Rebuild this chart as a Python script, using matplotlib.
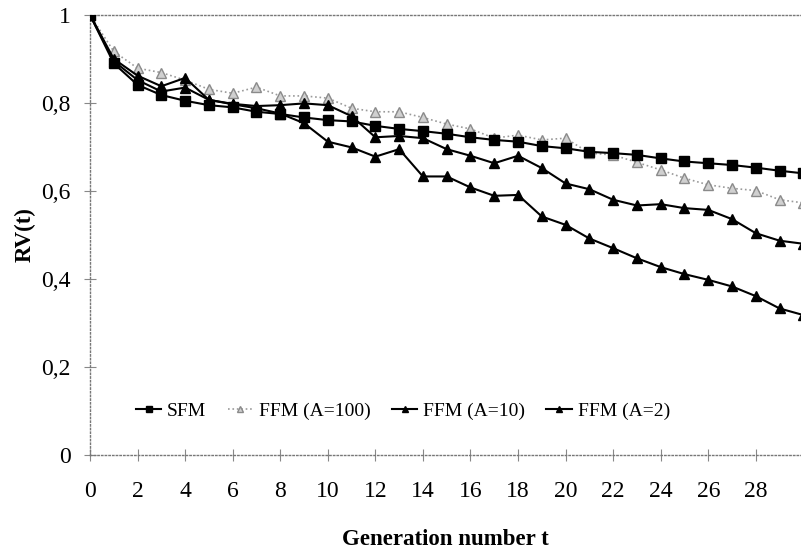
import matplotlib
matplotlib.use("Agg")
import matplotlib.pyplot as plt
from matplotlib.ticker import FuncFormatter

# generation number
t = list(range(0, 31))

sfm = [1.0, 0.890, 0.841, 0.818, 0.805, 0.795, 0.790, 0.780, 0.775, 0.767, 0.761,
       0.758, 0.748, 0.741, 0.736, 0.730, 0.722, 0.716, 0.712, 0.702, 0.697,
       0.689, 0.686, 0.682, 0.674, 0.667, 0.663, 0.659, 0.653, 0.646, 0.640]
ffm_100 = [1.0, 0.917, 0.879, 0.869, 0.852, 0.831, 0.822, 0.836, 0.816, 0.816, 0.811,
           0.788, 0.780, 0.780, 0.767, 0.752, 0.741, 0.720, 0.727, 0.716, 0.720,
           0.686, 0.682, 0.665, 0.648, 0.629, 0.614, 0.606, 0.601, 0.580, 0.573]
ffm_10 = [1.0, 0.900, 0.862, 0.838, 0.857, 0.807, 0.798, 0.793, 0.795, 0.799, 0.795,
          0.770, 0.722, 0.725, 0.720, 0.695, 0.680, 0.663, 0.680, 0.652, 0.617,
          0.604, 0.580, 0.567, 0.570, 0.561, 0.557, 0.536, 0.504, 0.487, 0.480]
ffm_2 = [1.0, 0.895, 0.852, 0.826, 0.835, 0.807, 0.797, 0.788, 0.776, 0.754, 0.712,
         0.699, 0.678, 0.695, 0.633, 0.633, 0.608, 0.589, 0.591, 0.542, 0.523,
         0.492, 0.470, 0.447, 0.427, 0.411, 0.398, 0.383, 0.361, 0.333, 0.318]

plt.rcParams['font.family'] = ['Liberation Serif', 'DejaVu Serif']

fig = plt.figure(figsize=(8.01, 5.54), dpi=100)
ax = fig.add_axes([0.1124, 0.1787, 0.8876, 0.7943])

ax.plot(t, ffm_100, color="#9a9a9a", linestyle=":", linewidth=1.2, marker="^",
        markersize=6.5, markerfacecolor="#d0d0d0", markeredgecolor="#8a8a8a",
        label="FFM (A=100)", zorder=2)
ax.plot(t, ffm_2, color="black", linewidth=1.5, marker="^", markersize=7.5,
        label="FFM (A=2)", zorder=3)
ax.plot(t, ffm_10, color="black", linewidth=1.5, marker="^", markersize=7.5,
        label="FFM (A=10)", zorder=3)
ax.plot(t, sfm, color="black", linewidth=1.5, marker="s", markersize=6.5,
        label="SFM", zorder=4)

ax.set_xlim(0, 29.9)
ax.set_ylim(0, 1)
ax.set_xticks(range(0, 29, 2))
ax.set_yticks([0, 0.2, 0.4, 0.6, 0.8, 1.0])
ax.yaxis.set_major_formatter(FuncFormatter(lambda v, p: ("%g" % round(v, 1)).replace(".", ",")))

for s in ["left", "bottom", "top"]:
    ax.spines[s].set_linestyle(":")
    ax.spines[s].set_color("#777777")
    ax.spines[s].set_linewidth(1.0)
ax.spines["right"].set_visible(False)

ax.tick_params(axis="both", direction="inout", length=8, width=0.8, color="#888888",
               labelsize=17)
ax.tick_params(axis="x", pad=15)
ax.tick_params(axis="y", pad=10)

ax.set_xlabel("Generation number t", fontsize=16.5, fontweight="bold", labelpad=19)
ax.set_ylabel("RV(t)", fontsize=16.5, fontweight="bold", labelpad=4)

handles, labels = ax.get_legend_handles_labels()
order = [labels.index(n) for n in ["SFM", "FFM (A=100)", "FFM (A=10)", "FFM (A=2)"]]
ax.legend([handles[i] for i in order], [labels[i] for i in order], loc="center",
          bbox_to_anchor=(0.44, 0.1), ncol=4, frameon=False, fontsize=14,
          handlelength=1.3, handletextpad=0.3, columnspacing=1.1, markerscale=0.65)

fig.savefig("out.png", dpi=100)
